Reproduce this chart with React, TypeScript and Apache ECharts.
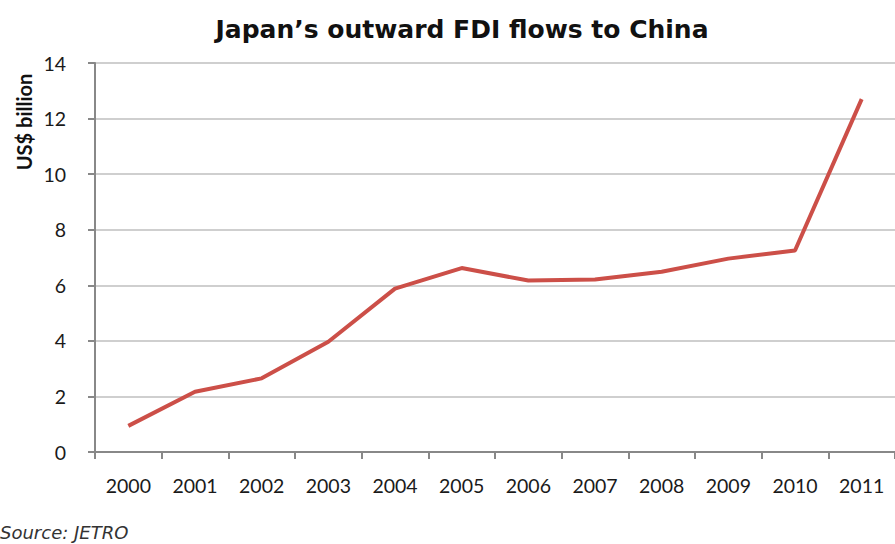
import React, { useEffect, useRef } from "react";
import * as echarts from "echarts";

const years = ["2000", "2001", "2002", "2003", "2004", "2005", "2006", "2007", "2008", "2009", "2010", "2011"];
const fdiValues = [0.94, 2.17, 2.65, 3.97, 5.88, 6.62, 6.17, 6.21, 6.49, 6.96, 7.25, 12.7];
const titleText = "Japan\u2019s outward FDI flows to China";
const yAxisTitle = "US$ billion";
const sourceText = "Source: JETRO";

export default function App() {
  const ref = useRef<HTMLDivElement>(null);
  useEffect(() => {
    if (!ref.current) return;
    const chart = echarts.init(ref.current, null, { renderer: "svg" });
    chart.setOption({
      animation: false,
      backgroundColor: "#ffffff",
      title: {
        text: titleText,
        left: 457,
        textAlign: "center",
        top: 12,
        textStyle: { fontFamily: "DejaVu Sans", fontWeight: "bold", fontSize: 25, color: "#111" },
      },
      grid: { left: 95, top: 63, width: 804, bottom: 92, containLabel: false },
      xAxis: {
        type: "category",
        data: years,
        boundaryGap: true,
        axisLine: { lineStyle: { color: "#888", width: 2 } },
        axisTick: { show: true, interval: 0, length: 7, lineStyle: { color: "#888", width: 2 } },
        axisLabel: { interval: 0, margin: 23, fontSize: 19.5, color: "#1a1a1a", fontFamily: "Lato" },
        splitLine: { show: false },
      },
      yAxis: {
        type: "value",
        min: 0,
        max: 14,
        interval: 2,
        axisLine: { show: true, lineStyle: { color: "#888", width: 2 } },
        axisTick: { show: true, length: 7, lineStyle: { color: "#888", width: 2 } },
        axisLabel: { margin: 29, fontSize: 19.5, color: "#1a1a1a", fontFamily: "Lato" },
        splitLine: { show: true, lineStyle: { color: "#cfcfcf", width: 2 } },
      },
      graphic: [
        {
          type: "text",
          x: 24,
          y: 122,
          rotation: Math.PI / 2,
          style: {
            text: yAxisTitle,
            fontFamily: "Lato",
            fontWeight: "bold",
            fontSize: 20,
            fill: "#111",
            align: "center",
            verticalAlign: "middle",
          },
        },
        {
          type: "text",
          x: 0,
          y: 532,
          style: {
            text: sourceText,
            fontFamily: "DejaVu Sans",
            fontStyle: "italic",
            fontSize: 18,
            fill: "#333",
            align: "left",
            verticalAlign: "middle",
          },
        },
      ],
      series: [
        {
          type: "line",
          data: fdiValues,
          symbol: "none",
          lineStyle: { color: "#cc4f48", width: 4 },
        },
      ],
    });
    return () => chart.dispose();
  }, []);
  return <div ref={ref} style={{ width: 895, height: 544, position: "absolute", left: 0, top: 0 }} />;
}
